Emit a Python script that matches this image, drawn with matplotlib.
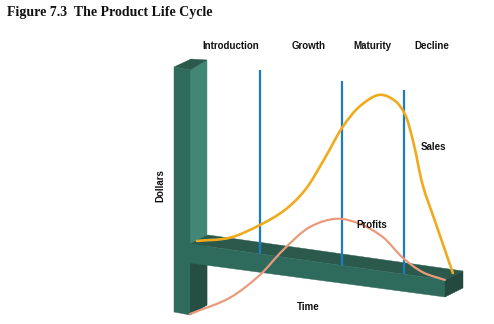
import numpy as np
import matplotlib
matplotlib.use("Agg")
import matplotlib.pyplot as plt
from matplotlib.path import Path
from matplotlib.patches import Polygon, PathPatch
from matplotlib.transforms import Affine2D

# ---- data: time (0-100) vs dollars ----
stages = ["Introduction", "Growth", "Maturity", "Decline"]
stage_breaks = [26.4, 57.4, 80.8]

sales_t = [2.6, 15.1, 26.4, 35.8, 43.4, 50.9, 57.7, 64.2, 71.7, 77.4, 81.1,
           84.2, 87.9, 92.5, 99.2]
sales_d = [4, 12, 28.9, 47.4, 70.2, 105, 139, 162, 176, 172, 160,
           134, 91, 57, 8]

profit_t = [0, 15.1, 26.4, 35.1, 45.3, 55.5, 64.2, 72.8, 80.4, 87.9, 96.2]
profit_d = [-70, -48, -21, 7, 34, 46, 44, 34, 16, 4.5, 0]

W, H = 494, 324
fig = plt.figure(figsize=(W / 100, H / 100), dpi=100)
ax = fig.add_axes([0, 0, 1, 1])
ax.set_xlim(0, W)
ax.set_ylim(H, 0)
ax.axis("off")

# oblique chart plane: time runs along the slanted beam, dollars go straight up
x0, y0 = 190.0, 244.0
sx = 2.65
slope = 0.141
skew = Affine2D(np.array([[sx, 0.0, x0],
                          [slope * sx, -1.0, y0],
                          [0.0, 0.0, 1.0]]))
plane = skew + ax.transData


def smooth_path(xs, ys, alpha=0.5):
    """Centripetal Catmull-Rom curve through the points, as Bezier segments."""
    p = np.column_stack([xs, ys]).astype(float)
    scr = skew.transform(p)
    ext = np.vstack([2 * p[0] - p[1], p, 2 * p[-1] - p[-2]])
    sext = np.vstack([2 * scr[0] - scr[1], scr, 2 * scr[-1] - scr[-2]])
    knots = np.concatenate([[0.0], np.cumsum(
        np.linalg.norm(np.diff(sext, axis=0), axis=1) ** alpha)])
    verts = [p[0]]
    codes = [Path.MOVETO]
    for i in range(1, len(ext) - 2):
        p0, p1, p2, p3 = ext[i - 1], ext[i], ext[i + 1], ext[i + 2]
        t0, t1, t2, t3 = knots[i - 1], knots[i], knots[i + 1], knots[i + 2]
        m1 = (t2 - t1) * ((p1 - p0) / (t1 - t0) - (p2 - p0) / (t2 - t0)
                          + (p2 - p1) / (t2 - t1))
        m2 = (t2 - t1) * ((p2 - p1) / (t2 - t1) - (p3 - p1) / (t3 - t1)
                          + (p3 - p2) / (t3 - t2))
        verts += [p1 + m1 / 3.0, p2 - m2 / 3.0, p2]
        codes += [Path.CURVE4] * 3
    return Path(verts, codes)


# ---- 3D axis frame ----
front = "#2f6b5c"
side = "#428676"
top = "#2b5a4d"
shade = "#264e43"
end = "#244a40"

def poly(pts, color, z=1):
    ax.add_patch(Polygon(pts, closed=True, facecolor=color, edgecolor=color,
                         linewidth=0.3, zorder=z))

# vertical post
poly([(190, 70), (207, 60), (207, 305), (190, 315)], side, 1)
poly([(190, 262), (207, 264), (207, 305), (190, 315)], shade, 1.1)
poly([(174, 67), (191, 59), (207, 60), (190, 70)], top, 1)
poly([(174, 67), (190, 70), (190, 315), (174, 312)], front, 1.2)

# horizontal beam
poly([(190, 244), (208, 235), (463, 271), (445, 280)], top, 2)
poly([(190, 244), (445, 280), (445, 297), (190, 263)], front, 2)
poly([(445, 280), (463, 271), (463, 288), (445, 297)], end, 2)

# ---- stage dividers ----
for tb in stage_breaks:
    ax.plot([tb, tb], [0, 184], color="#1a7cc4", lw=1.6,
            solid_capstyle="butt", transform=plane, zorder=3)

# ---- curves ----
ax.add_patch(PathPatch(smooth_path(sales_t, sales_d), facecolor="none",
                       edgecolor="#f0aa1e", lw=1.9, transform=plane,
                       capstyle="round", zorder=4))
ax.add_patch(PathPatch(smooth_path(profit_t, profit_d), facecolor="none",
                       edgecolor="#ea9a7c", lw=1.6, transform=plane,
                       capstyle="round", zorder=4))

# ---- text ----
lab = dict(family="Liberation Sans", fontweight="bold", fontsize=7,
           color="#111111", ha="center", va="center", zorder=5)
for name, xp in zip(stages, [231, 309, 372, 432]):
    ax.text(xp, 46, name, **lab)
ax.text(433, 147, "Sales", **lab)
ax.text(372, 225, "Profits", **lab)
ax.text(308, 307, "Time", **lab)
ax.text(160, 186, "Dollars", rotation=90, **lab)

ax.text(7, 12.5, "Figure 7.3  The Product Life Cycle", family="Liberation Serif",
        fontweight="bold", fontsize=10, color="#111111", ha="left",
        va="center", zorder=5)

fig.savefig("out.png", dpi=100, facecolor="white")
